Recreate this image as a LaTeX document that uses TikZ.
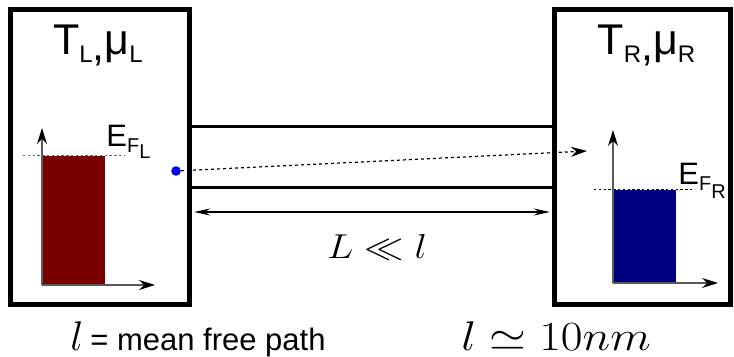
\documentclass[tikz,border=0pt]{standalone}
\usepackage[no-math]{fontspec}
\newfontfamily\arialfont{Liberation Sans}
\usetikzlibrary{arrows.meta,positioning,calc}
\definecolor{hotfill}{RGB}{122,0,0}
\definecolor{coldfill}{RGB}{0,0,128}
\newcommand{\lowsub}[3][4pt]{\raisebox{-#1}{\fontsize{#2}{13}\selectfont #3}}
\newcommand{\widemath}[1]{\scalebox{1.14}[1]{$#1$}}

\begin{document}
\begin{tikzpicture}[
  x=0.5pt, y=-0.5pt,
  resbox/.style={draw, line width=2.3pt, minimum width=89.5pt, minimum height=147.5pt, inner sep=0pt},
  tube/.style={draw, line width=1.5pt, minimum width=182.5pt, minimum height=30.25pt, inner sep=0pt},
  axis/.style={-{Stealth[length=8pt,width=5pt,black]}, draw=black!65, line width=0.7pt},
  dimarrow/.style={{Stealth[length=8pt,width=3.5pt]}-{Stealth[length=8pt,width=3.5pt]}, line width=0.6pt},
  flight/.style={-{Stealth[length=8pt,width=5pt]}, dash pattern=on 1.5pt off 1.5pt, line width=0.6pt},
  fermi/.style={dash pattern=on 1.2pt off 1.2pt, line width=0.5pt},
  reslabel/.style={anchor=base, font=\arialfont\fontsize{21.5}{25}\selectfont, inner sep=0pt},
  eflabel/.style={anchor=base west, font=\arialfont\fontsize{15.5}{18}\selectfont, inner sep=0pt},
  note/.style={anchor=base west, inner sep=0pt, font=\huge},
]
  \useasboundingbox (0,0) rectangle (734,357);

  \node[tube] (wire) at (372,157.25) {};
  \node[resbox] (resL) at (100,157) {};
  \node[resbox, minimum width=88pt] (resR) at (642.5,157) {};

  \node[reslabel] (tL) at (98,55) {T\lowsub{12}{L}\raisebox{-3pt}{,}μ\lowsub{12}{L}};
  \node[reslabel] (tR) at (646.5,55) {T\lowsub{12}{R}\raisebox{-3pt}{,}μ\lowsub{12}{R}};

  % left reservoir: filled up to E_F
  \coordinate (oL) at (42,285);
  \fill[hotfill] (oL) rectangle (105,156);
  \draw[fermi, black!60] (23,156) -- (125,156);
  \draw[axis] (oL) -- (42,128);
  \draw[axis] (oL) -- (155,285);
  \node[eflabel] (efL) at (106,147) {E\lowsub[3pt]{10}{F}\lowsub[6pt]{10}{L}};

  % right reservoir
  \coordinate (oR) at (613,283);
  \fill[coldfill] (oR) rectangle (676,190);
  \draw[fermi] (594,190) -- (693,190);
  \draw[axis] (oR) -- (613,130);
  \draw[axis] (oR) -- (718,283);
  \node[eflabel] (efR) at (678,185) {E\lowsub[3pt]{10}{F}\lowsub[7pt]{10}{R}};

  \node[circle, fill=blue, minimum size=4.8pt, inner sep=0pt] (elec) at (176,171) {};
  \coordinate (etarget) at (587,151);
  \draw[flight] (elec) -- (etarget);

  \draw[dimarrow, shorten <=1.2pt, shorten >=1.2pt] (resL.east |- 0,212) -- (resR.west |- 0,212);
  \node[font=\LARGE] (lenlbl) at (377,247) {\widemath{L\ll l}};

  \node[note] (mfp) at (70,351)
    {$l$\,{\arialfont\fontsize{15.5}{18}\selectfont= mean free path}};
  \node[note] (lval) at (461,351) {\widemath{l\simeq 10nm}};
\end{tikzpicture}
\end{document}
